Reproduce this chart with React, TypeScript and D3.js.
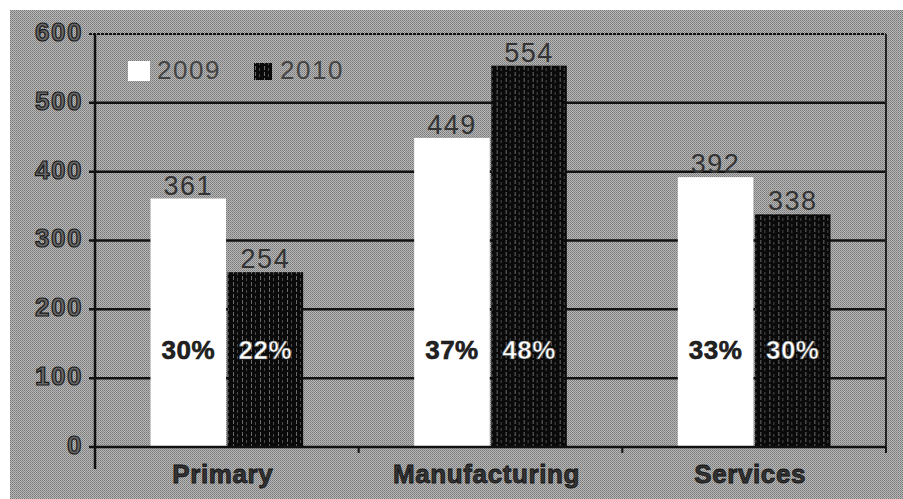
import React from "react";
import * as d3 from "d3";

const categories = ["Primary", "Manufacturing", "Services"];
const years = ["2009", "2010"];
const values2009 = [361, 449, 392];
const values2010 = [254, 554, 338];
const share2009 = ["30%", "37%", "33%"];
const share2010 = ["22%", "48%", "30%"];
const yTicks = [0, 100, 200, 300, 400, 500, 600];

const W = 903,
  H = 499;
const margin = { left: 95, right: 17, top: 34, bottom: 52 };

export default function App() {
  const x0 = d3
    .scaleBand()
    .domain(categories)
    .range([margin.left, W - margin.right])
    .paddingInner(0)
    .paddingOuter(0);
  const x1 = d3.scaleBand().domain(years).range([0, x0.bandwidth()]).paddingInner(0.02).paddingOuter(0.72);
  const y = d3.scaleLinear().domain([0, 600]).range([H - margin.bottom, margin.top]);

  const series = [values2009, values2010];
  const shares = [share2009, share2010];
  const font = "'Liberation Sans', Arial, sans-serif";

  return (
    <svg width={W} height={H} style={{ position: "absolute", left: 0, top: 0 }}>
      <defs>
        <pattern id="dither" width="2" height="2" patternUnits="userSpaceOnUse">
          <rect width="2" height="2" fill="#b8b8b8" />
          <rect width="1" height="1" fill="#777" />
          <rect x="1" y="1" width="1" height="1" fill="#8a8a8a" />
        </pattern>
        <pattern id="stripes" width="9" height="6" patternUnits="userSpaceOnUse">
          <rect width="9" height="6" fill="#0a0a0a" />
          <rect x="3" width="1" height="4" fill="#6a6a6a" />
          <rect x="7" y="2" width="1" height="3" fill="#4a4a4a" />
        </pattern>
      </defs>
      <rect x={0} y={0} width={W} height={H} fill="#fff" />
      <rect x={10} y={10} width={W - 10} height={H - 10} fill="url(#dither)" />

      {/* grid */}
      {yTicks.slice(1).map((t) => (
        <line
          key={t}
          x1={margin.left - 6}
          x2={W - margin.right}
          y1={y(t)}
          y2={y(t)}
          stroke="#111"
          strokeWidth={t === 600 ? 2 : 2.5}
          strokeDasharray={t === 600 ? "3 1" : undefined}
        />
      ))}
      <line x1={W - margin.right} x2={W - margin.right} y1={y(600)} y2={y(0)} stroke="#222" strokeWidth={2} />

      {/* bars */}
      {categories.map((c, i) => (
        <g key={c} transform={`translate(${x0(c)},0)`}>
          {years.map((yr, j) => {
            const v = series[j][i];
            const bx = x1(yr)!;
            const bw = x1.bandwidth();
            return (
              <g key={yr}>
                <rect
                  x={bx}
                  y={y(v)}
                  width={bw}
                  height={y(0) - y(v)}
                  fill={j === 0 ? "#fff" : "url(#stripes)"}
                />
                <text
                  x={bx + bw / 2}
                  y={y(v) - 4}
                  textAnchor="middle"
                  fontFamily={font}
                  fontSize={27}
                  letterSpacing={1.5}
                  fill="#333"
                >
                  {v}
                </text>
                <text
                  x={bx + bw / 2}
                  y={y(138)}
                  textAnchor="middle"
                  dominantBaseline="middle"
                  fontFamily={font}
                  fontSize={26}
                  fontWeight="bold"
                  letterSpacing={0.5}
                  fill={j === 0 ? "#222" : "#fff"}
                  stroke={j === 0 ? "#111" : "#555"}
                  strokeWidth={0.6}
                >
                  {shares[j][i]}
                </text>
              </g>
            );
          })}
        </g>
      ))}

      {/* axes */}
      <line x1={margin.left} x2={margin.left} y1={y(600)} y2={y(0) + 22} stroke="#111" strokeWidth={2.5} />
      <line x1={margin.left - 6} x2={W - margin.right} y1={y(0)} y2={y(0)} stroke="#111" strokeWidth={2.5} />
      {categories.map((c) => (
        <line
          key={c}
          x1={x0(c)! + x0.bandwidth()}
          x2={x0(c)! + x0.bandwidth()}
          y1={y(0)}
          y2={y(0) + 6}
          stroke="#111"
          strokeWidth={2}
        />
      ))}
      {yTicks.map((t) => (
        <text
          key={t}
          x={margin.left - 12}
          y={y(t)}
          textAnchor="end"
          dominantBaseline="middle"
          fontFamily={font}
          fontSize={26}
          fontWeight="bold"
          letterSpacing={1.5}
          fill="#666"
          stroke="#1a1a1a"
          strokeWidth={1.2}
        >
          {t}
        </text>
      ))}
      {categories.map((c) => (
        <text
          key={c}
          x={x0(c)! + x0.bandwidth() / 2 - 4}
          y={y(0) + 36}
          textAnchor="middle"
          fontFamily={font}
          fontSize={26}
          fontWeight="bold"
          letterSpacing={0.6}
          fill="#333"
          stroke="#111"
          strokeWidth={0.8}
        >
          {c}
        </text>
      ))}

      {/* legend */}
      <rect x={128} y={61} width={22} height={20} fill="#fff" />
      <text x={157} y={72} dominantBaseline="middle" fontFamily={font} fontSize={26} letterSpacing={1.5} fill="#444">
        {years[0]}
      </text>
      <rect x={254} y={63} width={18} height={17} fill="url(#stripes)" />
      <text x={280} y={72} dominantBaseline="middle" fontFamily={font} fontSize={26} letterSpacing={1.5} fill="#444">
        {years[1]}
      </text>
    </svg>
  );
}
